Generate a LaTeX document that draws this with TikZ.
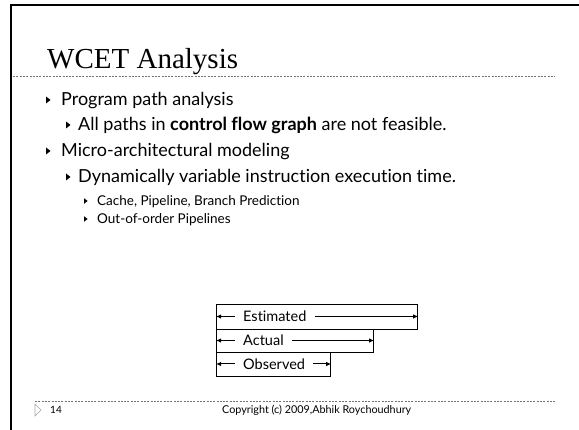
\documentclass[tikz,border=0pt]{standalone}
\usepackage{fontspec}
\setmainfont{Lato}[Ligatures=NoCommon]
\newfontfamily\titlefont{Liberation Serif}
\usetikzlibrary{arrows.meta}
\begin{document}
\begin{tikzpicture}[x=1pt,y=-1pt,
  lvone/.style={anchor=base west, inner sep=0pt, font=\fontsize{18}{20}\selectfont},
  lvthree/.style={anchor=base west, inner sep=0pt, font=\fontsize{13.5}{15}\selectfont},
  bul/.pic={\fill (0,-3.5) -- (4.5,0) -- (0,3.5) -- cycle;},
  dotline/.style={black!55, line width=0.8pt, dash pattern=on 2pt off 1.3pt},
  barbox/.style={draw, line width=1.2pt, anchor=north west, inner sep=0pt},
  boxtxt/.style={anchor=west, inner xsep=8pt, inner ysep=2pt, font=\fontsize{14.5}{16}\selectfont},
  arr/.style={line width=1pt, -{Latex[length=5pt,width=4.5pt]}}
]
\useasboundingbox (0,0) rectangle (579,430);
% slide frame
\draw[line width=1.8pt] (11,430) -- (11,5) -- (579,5);
% title
\node[anchor=base west, inner sep=0pt, font=\titlefont\fontsize{29}{31}\selectfont] (title) at (47,68.5) {WCET Analysis};
\draw[dotline] (13,76) -- (555,76);
% bullets
\pic at (46,100) {bul};
\node[lvone] (l1) at (61,106) {Program path analysis};
\pic at (66,125) {bul};
\node[lvone] (l2) at (78,131) {All paths in \textbf{control flow graph} are not feasible.};
\pic at (46,151) {bul};
\node[lvone] (l3) at (61,157) {Micro-architectural modeling};
\pic at (66,177) {bul};
\node[lvone] (l4) at (78,183) {Dynamically variable instruction execution time.};
\pic[scale=0.8] at (84,201) {bul};
\node[lvthree] (l5) at (97,205.5) {Cache, Pipeline, Branch Prediction};
\pic[scale=0.8] at (84,219) {bul};
\node[lvthree] (l6) at (97,223.5) {Out-of-order Pipelines};
% bars
\node[barbox, minimum width=201pt, minimum height=25pt] (estB) at (216,304) {};
\node[barbox, minimum width=157pt, minimum height=23pt] (actB) at (216,329) {};
\node[barbox, minimum width=114pt, minimum height=24pt] (obsB) at (216,352) {};
\node[boxtxt] (estT) at (235,316.5) {Estimated};
\node[boxtxt] (actT) at (235,340.5) {Actual};
\node[boxtxt] (obsT) at (235,364) {Observed};
\draw[arr] (estT.west) -- (estT.west -| estB.west);
\draw[arr] (estT.east) -- (estT.east -| estB.east);
\draw[arr] (actT.west) -- (actT.west -| actB.west);
\draw[arr] (actT.east) -- (actT.east -| actB.east);
\draw[arr] (obsT.west) -- (obsT.west -| obsB.west);
\draw[arr] (obsT.east) -- (obsT.east -| obsB.east);
% footer
\draw[dotline] (35,401) -- (555,401);
\draw[black!35, line width=0.6pt] (35,404) -- (41,410) -- (35,416) -- cycle;
\node[anchor=base west, inner sep=0pt, font=\fontsize{10}{12}\selectfont] (pg) at (50,414) {14};
\node[anchor=base west, inner sep=0pt, font=\fontsize{10.8}{12}\selectfont] (copy) at (222,414) {Copyright (c) 2009,Abhik Roychoudhury};
\end{tikzpicture}
\end{document}
